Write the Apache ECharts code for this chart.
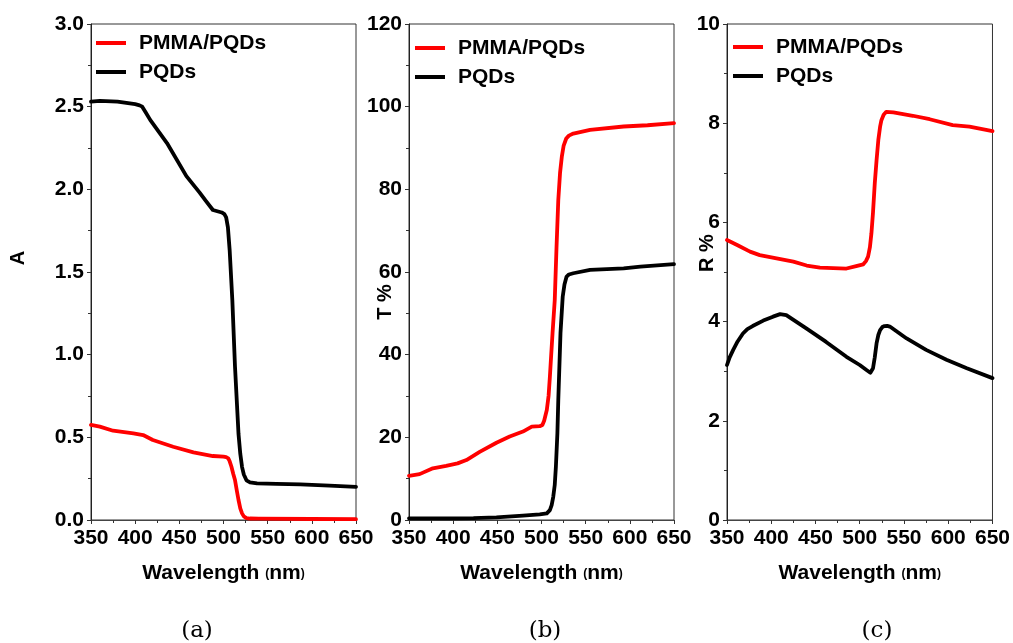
<!DOCTYPE html>
<html>
<head>
<meta charset="utf-8">
<script src="https://cdn.jsdelivr.net/npm/echarts@6/dist/echarts.min.js"></script>
<style>
  html, body { margin: 0; padding: 0; background: #fff; }
  #chart { width: 1013px; height: 643px; }
</style>
</head>
<body>
<div id="chart"></div>
<script>
// Series names shared by all three panels
const seriesNames = ['PMMA/PQDs', 'PQDs'];

// (a) Absorbance
const absPmmaWl = [350, 360, 375, 398, 409, 420, 443, 466, 488, 500, 503, 505.4, 507, 509, 511, 513, 515, 517, 519, 521, 523, 526, 530, 540, 600, 650];
const absPmma   = [0.575, 0.565, 0.54, 0.524, 0.514, 0.484, 0.443, 0.409, 0.387, 0.383, 0.38, 0.373, 0.355, 0.322, 0.28, 0.242, 0.18, 0.121, 0.07, 0.04, 0.022, 0.012, 0.009, 0.008, 0.006, 0.005];
const absPqdWl  = [350, 360, 380, 400, 405, 408, 412, 417, 436, 458, 473, 480, 488, 498, 501, 503, 505, 507, 510, 513, 517, 519, 521, 523, 526, 530, 538, 560, 587, 620, 650];
const absPqd    = [2.53, 2.535, 2.53, 2.515, 2.508, 2.50, 2.465, 2.42, 2.28, 2.08, 1.98, 1.93, 1.875, 1.86, 1.85, 1.83, 1.77, 1.63, 1.33, 0.93, 0.52, 0.40, 0.32, 0.275, 0.24, 0.228, 0.222, 0.218, 0.215, 0.208, 0.20];

// (b) Transmittance, %
const transPmmaWl = [350, 362, 377, 392, 405, 415, 430, 449, 464, 479, 489, 498, 501, 503, 506, 508, 509.5, 511, 512.5, 515, 517, 519, 521, 523, 525, 528, 531, 536, 555, 593, 620, 650];
const transPmma   = [10.7, 11.1, 12.5, 13.1, 13.7, 14.5, 16.5, 18.7, 20.2, 21.4, 22.6, 22.7, 23.0, 24.0, 26.6, 30, 34.7, 40, 45.2, 53.2, 66, 77.4, 84, 87.9, 90.5, 92.3, 93, 93.5, 94.4, 95.2, 95.5, 96.0];
const transPqdWl  = [350, 400, 423, 449, 479, 498, 506, 508, 509.5, 511.5, 513.3, 515, 516.3, 518, 519, 521.5, 524, 526, 528.4, 531, 536, 555, 593, 612, 650];
const transPqd    = [0.4, 0.4, 0.45, 0.65, 1.05, 1.37, 1.6, 1.9, 2.4, 3.6, 5.6, 8.5, 12.9, 21, 29, 45.2, 54, 57, 58.9, 59.4, 59.7, 60.5, 60.9, 61.3, 61.9];

// (c) Reflectance, %
const reflPmmaWl = [350, 362, 376, 387, 406, 425, 440, 455, 485, 496, 504, 507, 509.4, 511.5, 513.2, 515, 517, 519, 521, 523, 524.5, 527, 530, 538, 560, 579, 605, 624, 650];
const reflPmma   = [5.645, 5.54, 5.41, 5.34, 5.275, 5.21, 5.13, 5.09, 5.07, 5.12, 5.155, 5.22, 5.31, 5.5, 5.78, 6.2, 6.79, 7.25, 7.66, 7.93, 8.06, 8.17, 8.23, 8.22, 8.15, 8.08, 7.96, 7.93, 7.84];
const reflPqdWl  = [350, 353, 357, 362, 368, 373, 379, 391, 402, 410, 417, 440, 462, 485, 500, 508, 510, 512, 513.5, 515, 517, 519, 521, 523, 525.5, 528, 531, 534, 553, 575, 598, 621, 650];
const reflPqd    = [3.125, 3.28, 3.43, 3.6, 3.76, 3.85, 3.91, 4.02, 4.10, 4.15, 4.13, 3.86, 3.59, 3.29, 3.125, 3.02, 2.99, 2.97, 2.98, 3.06, 3.28, 3.56, 3.73, 3.83, 3.89, 3.91, 3.915, 3.90, 3.66, 3.43, 3.23, 3.06, 2.86];

// Axis ranges
const wlRange = { min: 350, max: 650, step: 50 };
const yRanges = [
  { min: 0, max: 3, step: 0.5, digits: 1 },
  { min: 0, max: 120, step: 20, digits: 0 },
  { min: 0, max: 10, step: 2, digits: 0 }
];
const yTitles = ['A', 'T %', 'R %'];
const captions = ['(a)', '(b)', '(c)'];

const panelData = [
  [[absPmmaWl, absPmma], [absPqdWl, absPqd]],
  [[transPmmaWl, transPmma], [transPqdWl, transPqd]],
  [[reflPmmaWl, reflPmma], [reflPqdWl, reflPqd]]
];

const colors = ['#ff0000', '#000000'];
const FONT = '"Liberation Sans", Arial, sans-serif';

// Layout of the three plot frames
const frames = [
  { left: 91, width: 265 },
  { left: 409, width: 265 },
  { left: 727, width: 266 }
];
const plotTop = 24, plotBottom = 520;
const legendPos = [
  { left: 96, top: 31 },
  { left: 415, top: 36 },
  { left: 733, top: 35 }
];
const yTitlePos = [
  { x: 18, y: 258 },
  { x: 385, y: 302 },
  { x: 707, y: 253 }
];
const captionX = [197, 545, 877];

const zip = (xs, ys) => xs.map((x, i) => [x, ys[i]]);

const grid = [], xAxis = [], yAxis = [], series = [], legend = [], graphic = [];

frames.forEach((f, p) => {
  grid.push({
    left: f.left, top: plotTop, width: f.width, height: plotBottom - plotTop,
    show: true, borderColor: '#333', borderWidth: 1, backgroundColor: 'transparent'
  });
  xAxis.push({
    type: 'value', gridIndex: p,
    min: wlRange.min, max: wlRange.max, interval: wlRange.step,
    axisLine: { show: true, lineStyle: { color: '#444', width: 1 } },
    axisTick: { show: true, length: 4, lineStyle: { color: '#333' } },
    minorTick: { show: true, splitNumber: 2, length: 3, lineStyle: { color: '#333' } },
    splitLine: { show: false },
    axisLabel: { color: '#000', fontFamily: FONT, fontWeight: 'bold', fontSize: 21, margin: 8 },
    name: '{t|Wavelength }{p|(}{t|nm}{p|)}',
    nameLocation: 'middle', nameGap: 43,
    nameTextStyle: {
      rich: {
        t: { fontFamily: FONT, fontWeight: 'bold', fontSize: 21, color: '#000' },
        p: { fontFamily: FONT, fontWeight: 'bold', fontSize: 12, color: '#000' }
      }
    }
  });
  const yr = yRanges[p];
  yAxis.push({
    type: 'value', gridIndex: p,
    min: yr.min, max: yr.max, interval: yr.step,
    axisLine: { show: true, lineStyle: { color: '#222', width: 1 } },
    axisTick: { show: true, length: 4, lineStyle: { color: '#333' } },
    minorTick: { show: true, splitNumber: 2, length: 3, lineStyle: { color: '#333' } },
    splitLine: { show: false },
    axisLabel: {
      color: '#000', fontFamily: FONT, fontWeight: 'bold', fontSize: 21, margin: 7,
      formatter: v => v.toFixed(yr.digits)
    }
  });
  panelData[p].forEach((d, s) => {
    series.push({
      name: seriesNames[s], type: 'line',
      xAxisIndex: p, yAxisIndex: p,
      data: zip(d[0], d[1]),
      showSymbol: false, symbol: 'none',
      smooth: false,
      lineStyle: { color: colors[s], width: 3.8, cap: 'round', join: 'round' },
      itemStyle: { color: colors[s] },
      z: s === 0 ? 3 : 2
    });
  });
  legend.push({
    data: seriesNames, orient: 'vertical',
    left: legendPos[p].left, top: legendPos[p].top,
    padding: 0, itemGap: 5, itemWidth: 30, itemHeight: 4, icon: 'rect',
    selectedMode: false,
    textStyle: {
      fontFamily: FONT, fontWeight: 'bold', fontSize: 21, color: '#000',
      lineHeight: 24, padding: [0, 0, 0, 8]
    }
  });
  graphic.push({
    type: 'text', x: yTitlePos[p].x, y: yTitlePos[p].y, rotation: Math.PI / 2,
    style: {
      text: yTitles[p], fill: '#000', font: 'bold 20px ' + FONT,
      align: 'center', verticalAlign: 'middle'
    }
  });
  graphic.push({
    type: 'text', x: captionX[p], y: 631,
    style: {
      text: captions[p], fill: '#000', font: '23px "DejaVu Serif", "Liberation Serif", serif',
      align: 'center', verticalAlign: 'middle'
    }
  });
});

const chart = echarts.init(document.getElementById('chart'), null, { renderer: 'canvas' });
chart.setOption({
  backgroundColor: '#fff',
  animation: false,
  grid, xAxis, yAxis, series, legend, graphic
});
</script>
</body>
</html>
